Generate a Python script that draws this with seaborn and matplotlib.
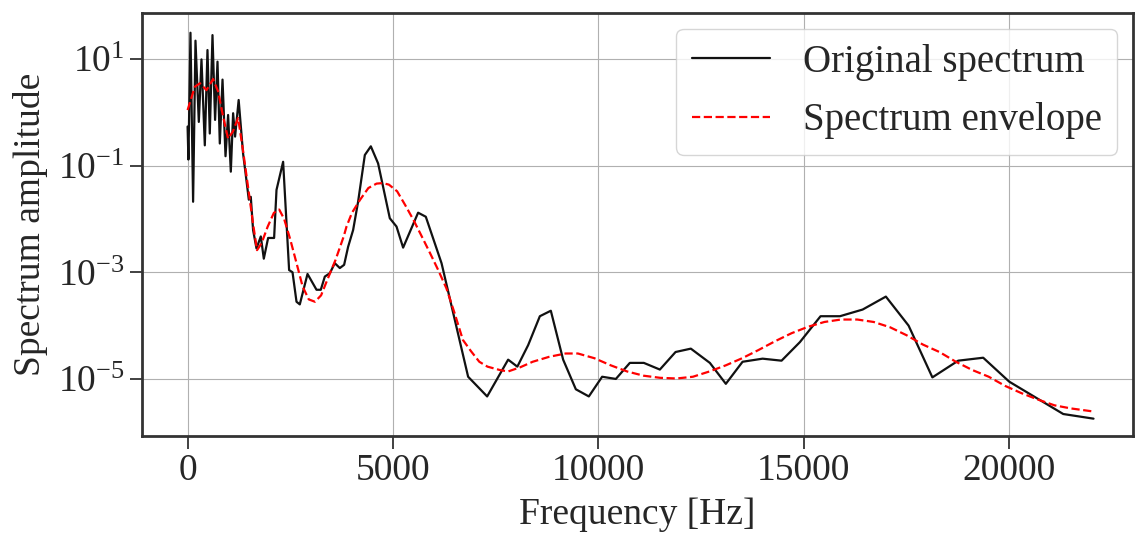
import numpy as np
import pandas as pd
import matplotlib
matplotlib.use("Agg")
import matplotlib.pyplot as plt
import matplotlib.ticker as mticker
import seaborn as sns

# ---- data ----
orig_freq = [0, 20, 70, 134, 192, 273, 338, 419, 484, 540, 606, 669, 728, 784, 850, 923,
             986, 1052, 1108, 1156, 1243, 1350, 1417, 1490, 1538, 1594, 1677, 1782, 1855,
             1960, 2106, 2164, 2325, 2471, 2554, 2651, 2731, 2919, 3138, 3242, 3340, 3462,
             3583, 3705, 3810, 3907, 4029, 4150, 4314, 4460, 4637, 4922, 5085, 5246, 5611,
             5798, 6181, 6828, 7291, 7802, 8026, 8289, 8574, 8841, 9141, 9450, 9766, 10090,
             10424, 10764, 11105, 11495, 11877, 12249, 12712, 13101, 13508, 13995, 14457,
             14903, 15406, 15877, 16430, 16996, 17549, 18128, 18756, 19365, 19998, 21313,
             22050]
orig_amp = [0.54, 0.13, 31, 0.021, 22, 0.66, 9.8, 0.24, 14.7, 0.40, 28, 0.72, 8.9, 0.26,
            4.1, 0.15, 0.89, 0.077, 0.96, 0.35, 1.7, 0.17, 0.066, 0.023, 0.026, 0.0062,
            0.0028, 0.0047, 0.0018, 0.0044, 0.0044, 0.035, 0.118, 0.0011, 0.0010, 0.00028,
            0.00025, 0.00093, 0.00047, 0.00047, 0.00083, 0.00096, 0.00148, 0.0012, 0.00138,
            0.0030, 0.0062, 0.021, 0.158, 0.23, 0.11, 0.0103, 0.0072, 0.0029, 0.0131,
            0.0110, 0.00148, 1.1e-5, 4.7e-6, 2.3e-5, 1.7e-5, 4.3e-5, 1.5e-4, 1.9e-4, 2.3e-5,
            6.4e-6, 4.7e-6, 1.1e-5, 1.0e-5, 2.0e-5, 2.0e-5, 1.5e-5, 3.2e-5, 3.7e-5, 2.0e-5,
            8.1e-6, 2.1e-5, 2.4e-5, 2.2e-5, 4.9e-5, 1.5e-4, 1.5e-4, 2.0e-4, 3.5e-4, 1.0e-4,
            1.07e-5, 2.2e-5, 2.5e-5, 8.9e-6, 2.2e-6, 1.8e-6]

env_freq = [0, 175, 300, 460, 620, 740, 865, 985, 1105, 1230, 1350, 1475, 1595, 1690,
            1800, 1950, 2100, 2230, 2350, 2500, 2650, 2800, 2950, 3100, 3250, 3400, 3600,
            3800, 3868, 4000, 4200, 4400, 4600, 4750, 4900, 5100, 5300, 5500, 5700, 5900,
            6100, 6300, 6500, 6700, 6900, 7100, 7300, 7600, 7800, 8100, 8400, 8800, 9200,
            9500, 9900, 10300, 10700, 11100, 11500, 11900, 12300, 12700, 13100, 13500,
            13900, 14300, 14700, 15100, 15500, 15900, 16300, 16700, 17100, 17500, 17900,
            18300, 18700, 19100, 19500, 19900, 20300, 20700, 21100, 21500, 22050]
env_amp = [1.1, 3.0, 3.5, 2.6, 4.2, 2.5, 0.83, 0.32, 0.44, 0.78, 0.19, 0.038, 0.008,
           0.0026, 0.0035, 0.0072, 0.013, 0.015, 0.010, 0.0041, 0.0015, 0.00054, 0.00031,
           0.00028, 0.00037, 0.00072, 0.0017, 0.0047, 0.0072, 0.013, 0.023, 0.038, 0.046,
           0.047, 0.044, 0.033, 0.018, 0.0095, 0.0047, 0.0023, 0.0011, 0.0005, 0.00017,
           5.4e-5, 3.3e-5, 2.1e-5, 1.7e-5, 1.47e-5, 1.38e-5, 1.66e-5, 2.1e-5, 2.6e-5, 3.0e-5,
           3.0e-5, 2.45e-5, 1.8e-5, 1.38e-5, 1.15e-5, 1.05e-5, 1.02e-5, 1.1e-5, 1.38e-5,
           1.8e-5, 2.45e-5, 3.5e-5, 5.1e-5, 7.2e-5, 9.5e-5, 1.17e-4, 1.3e-4, 1.3e-4, 1.17e-4,
           9.3e-5, 6.6e-5, 4.4e-5, 3.2e-5, 2.1e-5, 1.47e-5, 1.1e-5, 7.4e-6, 5.4e-6, 4.1e-6,
           3.2e-6, 2.8e-6, 2.45e-6]

series_labels = ["Original spectrum", "Spectrum envelope"]
x_ticks = [0, 5000, 10000, 15000, 20000]
y_ticks = [1e1, 1e-1, 1e-3, 1e-5]

# ---- style ----
sns.set_style("whitegrid", {
    "axes.edgecolor": "#333333",
    "grid.color": "#b0b0b0",
    "xtick.bottom": True,
    "ytick.left": True,
    "axes.linewidth": 2.0,
})
plt.rcParams["font.family"] = ["Liberation Serif", "DejaVu Serif"]
plt.rcParams["mathtext.fontset"] = "custom"
plt.rcParams["mathtext.rm"] = "Liberation Serif"
plt.rcParams["axes.unicode_minus"] = True

FS = 27

fig = plt.figure(figsize=(11.35, 5.34), dpi=100)
ax = fig.add_axes([0.1251, 0.1835, 0.8731, 0.7922])

df_o = pd.DataFrame({"f": orig_freq, "a": orig_amp})
df_e = pd.DataFrame({"f": env_freq, "a": env_amp})

sns.lineplot(data=df_o, x="f", y="a", ax=ax, color="#111111", linewidth=1.6,
             label=series_labels[0], sort=False)
sns.lineplot(data=df_e, x="f", y="a", ax=ax, color="red", linewidth=1.6,
             linestyle="--", label=series_labels[1], sort=False)

ax.set_yscale("log")
ax.set_xlim(-1110, 23010)
ax.set_ylim(10 ** -6.07, 10 ** 1.862)
ax.set_xticks(x_ticks)
ax.set_yticks(y_ticks)
ax.yaxis.set_minor_locator(mticker.NullLocator())
ax.grid(True, which="major", color="#b0b0b0", linewidth=0.8)

ax.tick_params(axis="both", which="major", labelsize=FS, length=9, width=1.3,
               color="#333333", direction="out")
ax.set_xlabel("Frequency [Hz]", fontsize=FS, labelpad=7)
ax.set_ylabel("Spectrum amplitude", fontsize=FS, labelpad=7)

for s in ax.spines.values():
    s.set_color("#333333")
    s.set_linewidth(2.0)

leg = ax.legend(loc="upper right", fontsize=28, frameon=True, fancybox=True,
                framealpha=0.8, edgecolor="#cccccc", borderaxespad=0.4,
                labelspacing=0.55, handletextpad=0.85)
leg.get_frame().set_linewidth(1.0)

fig.savefig("out.png", dpi=100)
